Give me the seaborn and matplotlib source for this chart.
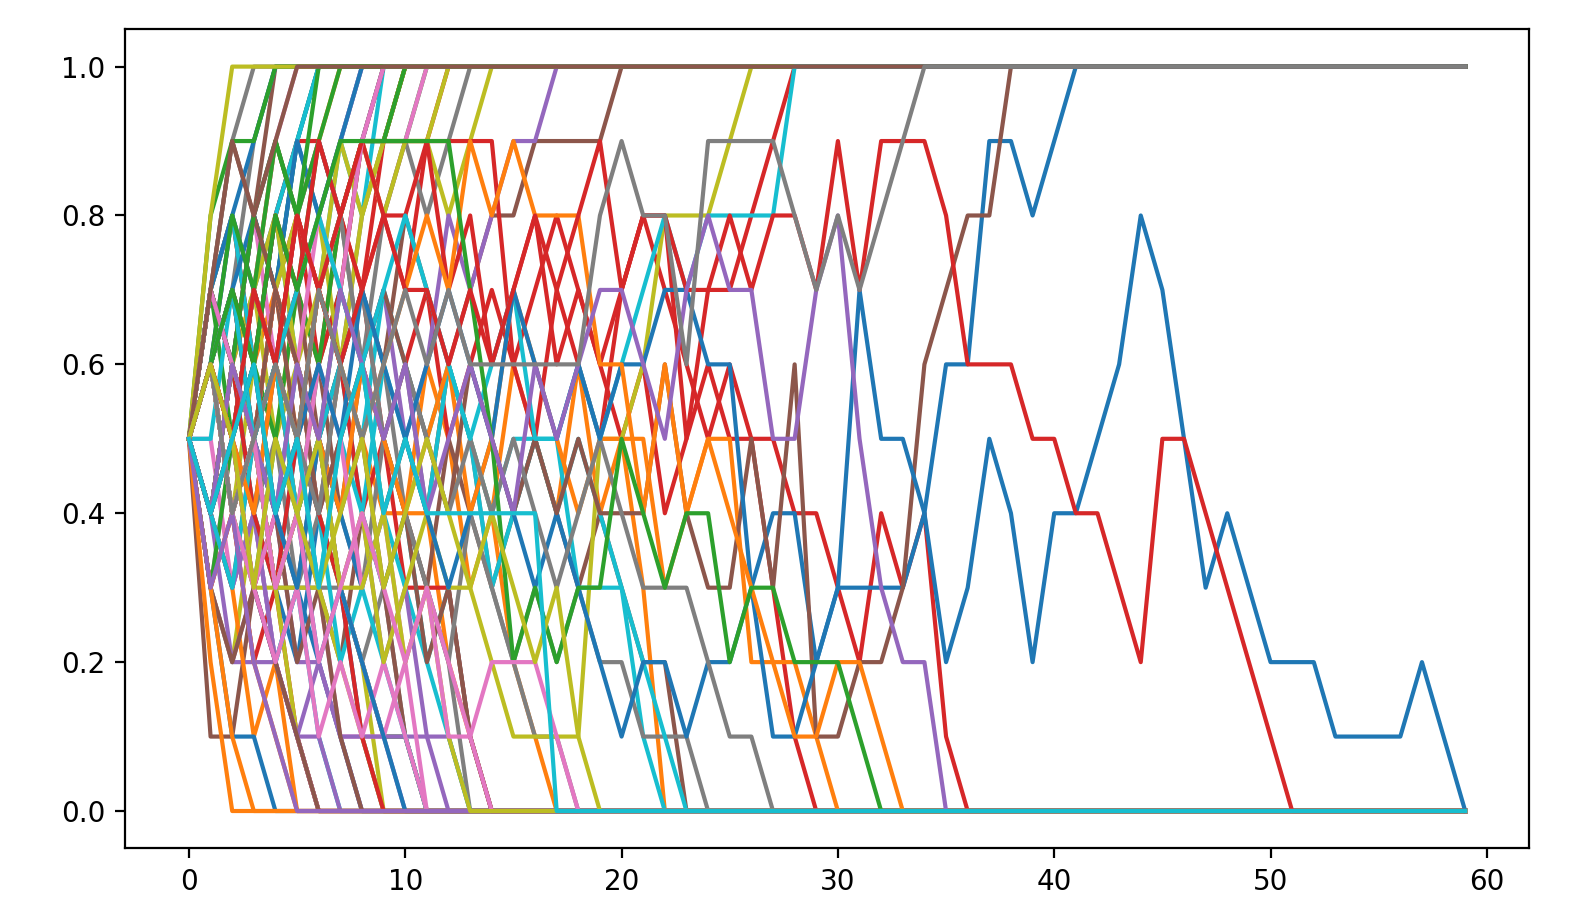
import matplotlib
matplotlib.use("Agg")
import matplotlib.pyplot as plt
import seaborn as sns

# generations on the x axis
generations = list(range(60))

# allele frequency paths, in tenths, read up to fixation (then flat)
r00 = [5,6,4,5,3,2,4,3,1,0]
r01 = [5,4,6,7,9,8,9,10]
r02 = [5,7,6,8,7,9,10]
r03 = [5,3,4,2,3,1,0]
r04 = [5,6,5,7,6,4,5,3,2,1,0]
r05 = [5,1,1,3,2,1,0]
r06 = [5,6,8,7,9,10]
r07 = [5,4,5,6,4,3,5,6,8,9,10]
r08 = [5,3,2,4,3,1,0]
r09 = [5,6,7,5,6,8,7,9,8,10]
r10 = [5,4,3,4,2,3,2,1,0]
r11 = [5,7,8,6,7,5,4,6,5,4,4,4,2,1,0]
r12 = [5,6,4,3,5,4,6,7,9,9,10]
r13 = [5,4,6,5,7,8,6,7,9,10]
r14 = [5,3,2,2,2,1,0]
r15 = [5,7,9,8,10]
r16 = [5,5,3,4,2,1,0]
r17 = [5,6,4,5,3,3,3,3,2,3,1,0]
r18 = [5,4,6,7,5,6,4,3,2,0]
r19 = [5,4,5,3,2,3,1,0]
r20 = [5,6,8,7,8,9,10]
r21 = [5,4,3,1,2,0]
r22 = [5,7,5,6,4,5,7,8,9,9,9,10]
r23 = [5,6,5,4,6,7,6,8,7,9,10]
r24 = [5,4,2,3,2,1,2,1,0]
r25 = [5,6,7,5,3,4,3,2,4,3,1,0]
r26 = [5,3,5,6,4,5,3,1,1,1,1,0]
r27 = [5,6,7,9,10]
r28 = [5,6,4,6,5,7,8,6,8,9,10]
r29 = [5,5,7,6,8,6,5,6,4,3,4,2,3,1,0]
r30 = [5,7,6,8,7,9,8,9,10]
r31 = [5,3,4,2,1,0]
r32 = [5,4,5,7,6,4,5,3,2,1,1,0]
r33 = [5,7,8,6,8,9,9,8,7,8,7,9,10]
r34 = [5,6,5,3,4,2,2,1,1,1,1,1,1,0]
r35 = [5,4,3,5,4,2,3,1,0]
r36 = [5,7,6,8,6,7,8,9,10]
r37 = [5,4,6,4,5,3,4,6,7,6,4,3,2,0]
r38 = [5,6,4,3,3,3,3,2,1,0]
r39 = [5,7,8,6,8,9,10]
r40 = [5,6,7,8,7,9,8,9,10]
r41 = [5,6,4,5,6,4,5,7,6,5,4,6,5,3,4,2,1,0]
r42 = [5,3,5,6,5,7,6,8,9,10]
r43 = [5,4,5,3,4,5,7,6,4,5,3,3,3,1,0]
r44 = [5,4,3,4,2,1,1,0]
r45 = [5,3,2,3,2,1,0]
r46 = [5,6,5,7,6,8,7,8,9,8,9,10]
r47 = [5,6,5,4,6,5,7,8,6,8,9,8,9,10]
r48 = [5,7,6,5,7,8,7,9,8,9,9,9,10]
r49 = [5,4,6,4,3,5,4,2,3,2,1,0]
r50 = [5,3,1,1,0]
r51 = [5,6,4,5,7,6,4,5,6,4,5,4,6,5,4,6,5,4,6,4,5,3,0]
r52 = [5,6,7,6,8,7,9,8,9,9,10]
r53 = [5,4,6,4,3,5,4,3,1,0]
r54 = [5,7,6,8,9,8,9,8,9,10]
r55 = [5,7,6,5,7,6,5,4,6,5,4,3,5,4,3,4,5,4,3,4,3,2,2,0]
r56 = [5,4,5,3,4,6,5,3,2,1,2,0]
r57 = [5,7,9,10]
r58 = [5,6,5,7,8,6,7,8,9,8,9,9,8,9,10]
r59 = [5,4,3,5,4,6,5,7,6,4,3,2,1,0]
r60 = [5,7,8,9,10]
r61 = [5,3,1,0]
r62 = [5,8,9,9,10]
r63 = [5,6,7,5,6,8,7,6,7,5,6,7,5,6,7,6,5,7,6,5,7,8,7,6,5,6,5,3,1,0]
r64 = [5,6,4,5,3,4,5,3,4,2,3,1,0]
r65 = [5,6,4,5,6,7,5,6,7,6,8,7,6,7,8,8,9,9,9,9,10]
r66 = [5,6,4,3,2,3,1,2,1,2,1,0]
r67 = [5,4,5,7,6,5,7,8,6,5,6,4,6,5,3,2,1,1,0]
r68 = [5,8,10]
r69 = [5,6,4,5,6,5,3,5,4,6,5,4,6,5,3,4,5,4,5,4,3,1,0]
r70 = [5,4,6,5,3,4,2,3,2,1,0]
r71 = [5,2,0]
r72 = [5,6,8,7,9,8,9,10]
r73 = [5,6,5,7,6,8,7,8,9,8,8,9,9,9,9,6,7,8,7,6,5,6,4,5,6,5,5,5,4,4,3,2,4,3,4,1,0]
r74 = [5,4,6,5,7,6,4,5,6,7,5,6,8,7,8,9,9,10]
r75 = [5,7,6,8,7,5,6,4,5,3,4,2,3,1,0]
r76 = [5,6,4,5,7,6,8,7,9,10]
r77 = [5,4,6,5,4,3,5,4,3,5,4,3,2,4,3,2,3,2,3,2,2,1,1,1,0]
r78 = [5,6,4,5,3,4,5,3,4,2,3,4,3,3,2,1,1,1,1,5,5,6,8,8,8,9,10]
r79 = [5,6,4,5,6,4,5,6,5,7,6,5,6,5,4,5,5,5,3,3,3,2,1,0]
r80 = [5,4,6,5,4,3,5,4,3,4,5,4,3,4,5,4,3,4,3,2,1,2,2,1,2,2,3,4,4,2,3,3,3,3,4,6,6,9,9,8,9,10]
r81 = [5,6,4,5,7,6,5,4,6,5,4,5,6,4,5,7,6,5,4,5,5,5,3,4,5,5,2,2,2,1,0]
r82 = [5,7,6,8,9,8,10]
r83 = [5,6,7,6,8,7,9,8,9,9,9,9,7,8,6,7,8,6,7,6,7,8,8,5,7,7,8,9,10]
r84 = [5,3,4,2,1,0]
r85 = [5,4,6,5,7,6,4,5,6,7,6,5,4,6,5,4,5,4,5,4,4,4,6,4,3,3,5,3,6,1,1,2,2,3,6,7,8,8,10]
r86 = [5,7,6,5,3,4,6,5,3,4,2,3,2,1,0]
r87 = [5,6,5,7,6,5,4,6,7,5,6,5,4,5,4,5,4,3,4,5,4,3,3,3,2,1,1,0]
r88 = [5,4,6,5,3,4,5,3,3,4,2,3,1,0]
r89 = [5,6,7,5,6,7,8,7,6,7,8,7,6,5,6,7,5,5,6,5,6,7,8,7,8,8,8,8,10]
r90 = [5,4,5,6,4,5,6,5,7,6,5,6,7,6,5,7,6,5,6,5,6,6,7,7,6,6,3,1,1,2,
       3,7,5,5,4,2,3,5,4,2,4,4,5,6,8,7,5,3,4,3,2,2,2,1,1,1,1,2,1,0]
r91 = [5,6,5,4,6,5,7,6,5,6,7,8,7,9,8,9,8,8,8,6,6,4,6,4,5,4,3,2,1,1,2,2,1,0]
r92 = [5,6,7,6,8,7,8,9,9,9,9,9,9,7,5,2,3,2,3,3,5,4,3,4,4,2,3,3,2,2,2,1,0]
r93 = [5,6,5,7,6,8,7,6,7,8,7,7,6,7,6,7,8,7,8,9,7,8,8,7,7,8,7,8,8,7,
       9,7,9,9,9,8,6,6,6,5,5,4,4,3,2,5,5,4,3,2,1,0]
r94 = [5,4,6,5,4,6,5,7,6,5,6,4,5,6,5,4,6,5,6,7,7,6,5,7,8,7,7,5,5,7,8,5,3,2,2,0]
r95 = [5,7,9,8,9,10]
r96 = [5,6,4,5,3,4,2,3,4,3,2,3,1,1,2,2,2,1,0]
r97 = [5,6,4,5,6,5,7,6,5,6,7,6,7,6,6,6,6,6,6,8,9,8,8,6,9,9,9,9,8,7,8,7,8,9,10]
r98 = [5,6,5,3,5,4,3,4,5,3,4,5,4,3,4,3,2,3,1,0]
r99 = [5,4,5,6,4,5,3,5,6,4,5,4,4,4,4,4,4,0]

runs = [r00, r01, r02, r03, r04, r05, r06, r07, r08, r09,
        r10, r11, r12, r13, r14, r15, r16, r17, r18, r19,
        r20, r21, r22, r23, r24, r25, r26, r27, r28, r29,
        r30, r31, r32, r33, r34, r35, r36, r37, r38, r39,
        r40, r41, r42, r43, r44, r45, r46, r47, r48, r49,
        r50, r51, r52, r53, r54, r55, r56, r57, r58, r59,
        r60, r61, r62, r63, r64, r65, r66, r67, r68, r69,
        r70, r71, r72, r73, r74, r75, r76, r77, r78, r79,
        r80, r81, r82, r83, r84, r85, r86, r87, r88, r89,
        r90, r91, r92, r93, r94, r95, r96, r97, r98, r99]

tab10 = sns.color_palette("tab10", 10)

fig = plt.figure(figsize=(7.92, 4.62), dpi=200)
ax = fig.add_axes([0.0790, 0.0820, 0.8863, 0.8862])

for k, path in enumerate(runs):
    # once absorbed (0 or 1) the frequency stays there
    full = list(path) + [path[-1]] * (len(generations) - len(path))
    freqs = [v / 10 for v in full]
    sns.lineplot(x=generations, y=freqs, color=tab10[k % 10],
                 linewidth=1.5, ax=ax, estimator=None)

ax.set_xlim(-2.95, 61.95)
ax.set_ylim(-0.05, 1.05)
ax.set_xticks([0, 10, 20, 30, 40, 50, 60])
ax.set_yticks([0.0, 0.2, 0.4, 0.6, 0.8, 1.0])
ax.set_xlabel("")
ax.set_ylabel("")

fig.savefig("out.png", dpi=200)
